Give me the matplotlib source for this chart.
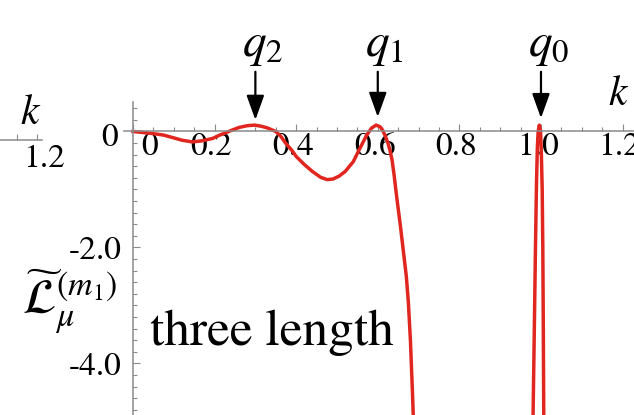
import numpy as np
import matplotlib
matplotlib.use("Agg")
import matplotlib.pyplot as plt
import matplotlib.transforms as mtransforms
from matplotlib.ticker import MultipleLocator

plt.rcParams['font.family'] = ['STIXGeneral', 'DejaVu Serif']
plt.rcParams['mathtext.fontset'] = 'stix'

# curve (k, L)
k_vals = [0.0, 0.042, 0.074, 0.10, 0.12, 0.146, 0.17, 0.195, 0.21, 0.228,
          0.245, 0.26, 0.28, 0.298, 0.315, 0.33, 0.35, 0.362, 0.374, 0.39,
          0.40, 0.42, 0.44, 0.46, 0.476, 0.49, 0.505, 0.52, 0.54, 0.554,
          0.565, 0.573, 0.585, 0.596, 0.606, 0.612, 0.618, 0.625, 0.63,
          0.635, 0.64, 0.645, 0.65, 0.655, 0.66, 0.665, 0.67, 0.675, 0.68,
          0.685, 0.69,
          0.975, 0.980, 0.9835, 0.9865, 0.989, 0.991, 0.993, 0.996, 0.999,
          1.001, 1.003, 1.0045, 1.0058, 1.007, 1.012]
L_vals = [0.0, -0.03, -0.06, -0.11, -0.15, -0.18, -0.16, -0.12, -0.07, -0.02,
          0.03, 0.07, 0.10, 0.11, 0.09, 0.06, 0.0, -0.08, -0.2, -0.33,
          -0.43, -0.57, -0.69, -0.79, -0.83, -0.82, -0.77, -0.69, -0.52, -0.32,
          -0.17, -0.06, 0.06, 0.11, 0.08, 0.02, -0.07, -0.2, -0.33,
          -0.49, -0.75, -1.05, -1.33, -1.6, -1.9, -2.2, -2.5, -2.95, -3.6,
          -4.5, -5.5,
          -6.5, -5.2, -3.5, -2.0, -0.9, -0.3, 0.0, 0.11, 0.0,
          -0.4, -1.0, -2.0, -3.5, -5.2, -6.5]

marker_k = [0.3, 0.6, 1.0]
marker_names = ['$q_2$', '$q_1$', '$q_0$']
marker_tip = [0.2, 0.25, 0.23]

x_major = [0.0, 0.2, 0.4, 0.6, 0.8, 1.0, 1.2]
x_labels = ['0', '0.2', '0.4', '0.6', '0.8', '1.0', '1.2']
y_major = [0.0, -2.0, -4.0]
y_labels = ['0', '-2.0', '-4.0']

axis_gray = '#8a8a8a'
red = '#e0261f'

fig = plt.figure(figsize=(6.34, 4.15), dpi=100)
W, H = 634, 415

# main panel
ax = fig.add_axes([124 / W, 0, 510 / W, (H - 102.5) / H])
ax.set_xlim(-0.022, 1.228)
ax.set_ylim(-4.888, 0.5)
ax.plot(k_vals, L_vals, color=red, lw=2.5, solid_joinstyle='round')

for s in ['top', 'right']:
    ax.spines[s].set_visible(False)
ax.spines['left'].set_position(('data', 0))
ax.spines['bottom'].set_position(('data', 0))
for s in ['left', 'bottom']:
    ax.spines[s].set_color(axis_gray)
    ax.spines[s].set_linewidth(1.1)
ax.set_xticks(x_major)
ax.set_xticklabels(x_labels)
ax.xaxis.set_minor_locator(MultipleLocator(0.05))
ax.set_yticks(y_major)
ax.set_yticklabels(y_labels)
ax.yaxis.set_minor_locator(MultipleLocator(0.2))
ax.tick_params(axis='both', which='both', direction='in', color=axis_gray, width=0.8)
ax.tick_params(axis='both', which='major', length=5)
ax.tick_params(axis='both', which='minor', length=3)
ax.tick_params(axis='x', which='major', labelsize=24, pad=1)
ax.tick_params(axis='y', which='major', labelsize=24, pad=8)

# shift tick labels like the original
for i, lab in enumerate(ax.get_xticklabels()):
    dx = 17 / 100 if i == 0 else -3 / 100
    lab.set_transform(lab.get_transform() + mtransforms.ScaledTranslation(dx, 0, fig.dpi_scale_trans))
ylab0 = ax.get_yticklabels()[0]
ylab0.set_transform(ylab0.get_transform() + mtransforms.ScaledTranslation(-4 / 100, -3 / 100, fig.dpi_scale_trans))

# arrows and q labels
for kk, name, tip in zip(marker_k, marker_names, marker_tip):
    ax.annotate('', xy=(kk, tip), xytext=(kk, 1.03), annotation_clip=False,
                arrowprops=dict(arrowstyle='-|>,head_length=0.75,head_width=0.27',
                                color='black', lw=1.6, mutation_scale=20, shrinkA=0, shrinkB=0))
    ax.text(kk - 0.032, 1.1, name, fontsize=34, ha='left', va='bottom', clip_on=False)

ax.text(1.165, 0.31, '$k$', fontsize=30, ha='left', va='bottom', clip_on=False)
ax.text(0.041, -3.68, 'three length', fontsize=37, ha='left', va='baseline')

# y label
fig.text(22 / W, 1 - 336 / H, r'$\widetilde{\mathcal{L}}_{\mu}^{(m_1)}$', fontsize=35,
         ha='left', va='bottom')

# piece of the neighbouring panel on the left
ax2 = fig.add_axes([0, 1 - 140 / H, 42 / W, 0.05])
ax2.set_xlim(1.2 - 37 / 408, 1.2 + 5 / 408)
ax2.set_ylim(0, 1)
for s in ['top', 'right', 'left']:
    ax2.spines[s].set_visible(False)
ax2.spines['bottom'].set_color(axis_gray)
ax2.spines['bottom'].set_linewidth(1.1)
ax2.set_yticks([])
ax2.set_xticks([1.15, 1.2])
ax2.set_xticklabels(['', '1.2'])
ax2.patch.set_alpha(0)
ax2.tick_params(axis='x', direction='in', color=axis_gray, width=0.8, length=4, labelsize=24, pad=3)
for lab in ax2.get_xticklabels():
    lab.set_transform(lab.get_transform() + mtransforms.ScaledTranslation(7 / 100, 0, fig.dpi_scale_trans))
ax2.text(1.2 - 17 / 408, 0.35, '$k$', fontsize=30, ha='left', va='bottom', clip_on=False)

fig.savefig('out.png', dpi=100)
